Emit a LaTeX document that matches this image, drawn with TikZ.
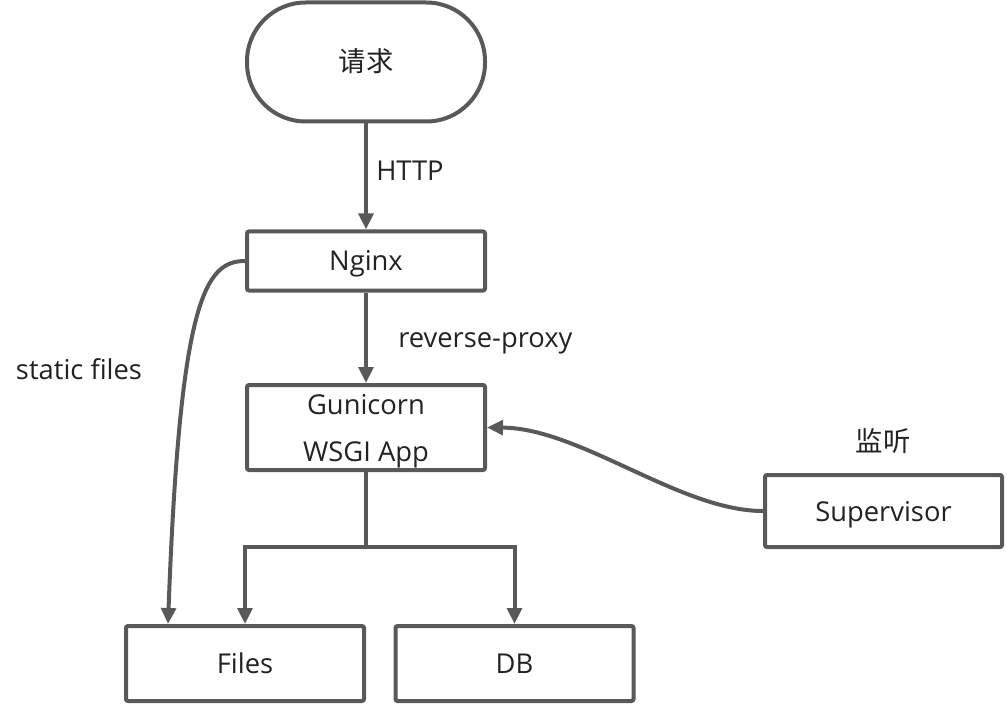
\documentclass[tikz,border=0pt]{standalone}
\usepackage{fontspec}
\setmainfont{Open Sans}
\newfontfamily\cjk{Noto Sans CJK SC}
\usetikzlibrary{arrows.meta}
\definecolor{linegray}{RGB}{89,89,89}
\definecolor{textgray}{RGB}{34,34,34}

\begin{document}
\begin{tikzpicture}[x=0.75pt, y=-0.75pt,
    box/.style={draw=linegray, line width=3pt, rounded corners=1.5pt, text=textgray,
      minimum width=178.5pt, inner sep=0pt, align=center, text height=18pt, text depth=3pt,
      font=\fontsize{20.5}{35}\selectfont},
    lbl/.style={text=textgray, inner sep=0pt, text height=18pt, text depth=3pt,
      font=\fontsize{20.5}{24}\selectfont},
    link/.style={draw=linegray, line width=3pt},
    arr/.style={link, -{Triangle[length=12pt,width=11pt]}}]
    \useasboundingbox (0,0) rectangle (1007,706);
    % Request
    \node [box, minimum height=89.25pt, rounded corners=44pt, font=\cjk\fontsize{20.5}{24}\selectfont] (request) at (366,62) {请求};
    % Servers
    \node [box, minimum height=44.25pt] (nginx) at (366,261) {Nginx};
    \node [box, minimum height=63.75pt, text height=54pt] (gunicorn) at (366,427.5) {Gunicorn\\WSGI App};
    \node [box, minimum width=177.75pt, minimum height=54pt] (supervisor) at (883.5,511) {Supervisor};
    % Storage
    \node [box, minimum height=56.25pt] (files) at (245,663.5) {Files};
    \node [box, minimum height=56.25pt] (db) at (514.5,663.5) {DB};
    % Labels
    \node [lbl, anchor=west] (http) at (376,171) {HTTP};
    \node [lbl, anchor=west] (proxy) at (398,337) {reverse-proxy};
    \node [lbl] (static) at (79,369) {static files};
    \node [lbl, font=\cjk\fontsize{20.5}{24}\selectfont] (watch) at (883,441) {监听};
    % Request flow
    \draw [arr] (request) -- (nginx);
    \draw [arr] (nginx) -- (gunicorn);
    % Branch to storage
    \coordinate (split) at (366,547);
    \draw [link] (gunicorn) -- (split);
    \draw [arr] (split) -| (files);
    \draw [arr] (split) -| (db);
    % Static files
    \draw [arr] (nginx.west) .. controls (205,261) and (180,300) .. ([xshift=33pt]files.north west);
    % Supervisor
    \draw [arr] (supervisor.west) .. controls (680,511) and (580,428) .. (gunicorn.east);
\end{tikzpicture}
\end{document}
